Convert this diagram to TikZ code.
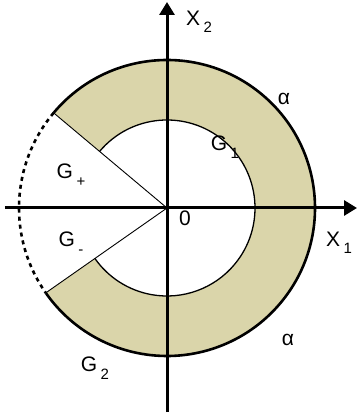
\documentclass[tikz,border=0pt]{standalone}
\usepackage{fontspec}
\setmainfont{Liberation Sans}
\usetikzlibrary{arrows.meta}
\definecolor{RingBeige}{HTML}{DAD5AA}

\newcommand{\lowsub}[1]{\,\raisebox{-0.35em}{\fontsize{15}{18}\selectfont #1}}

\begin{document}
\begin{tikzpicture}[
    x=1pt, y=1pt,
    axisline/.style={
      line width=3pt,
      -{Triangle[length=13pt,width=15pt]}
    },
    outerarc/.style={
      line width=2.6pt
    },
    outerdash/.style={
      line width=2.6pt,
      dash pattern=on 4pt off 4pt
    },
    innerarc/.style={
      line width=1.3pt
    },
    rayline/.style={
      line width=0.9pt
    },
    lbl/.style={
      font=\fontsize{21}{25}\selectfont,
      inner sep=0pt
    }
  ]
  \useasboundingbox (-167,-211) rectangle (194,208);

  \coordinate (O) at (0,0);
  \coordinate (xl) at (-162,0);
  \coordinate (xr) at (190,0);
  \coordinate (yb) at (0,-204);
  \coordinate (yt) at (0,206);
  \coordinate (up) at (140:148);
  \coordinate (lo) at (215:148);

  % shaded ring
  \fill[RingBeige] (up) arc[start angle=140, end angle=-145, radius=148]
    -- (-145:88) arc[start angle=-145, end angle=140, radius=88] -- cycle;

  \draw[outerarc] (up) arc[start angle=140, end angle=-145, radius=148];
  \draw[outerdash] (up) arc[start angle=140, end angle=215, radius=148];
  \draw[innerarc] (140:88) arc[start angle=140, end angle=-145, radius=88];
  \draw[rayline] (O) -- (up);
  \draw[rayline] (O) -- (lo);

  % axes
  \draw[axisline] (xl) -- (xr);
  \draw[axisline] (yb) -- (yt);

  \node[lbl] (x2) at (32,186) {X\lowsub{2}};
  \node[lbl] (x1) at (172,-35) {X\lowsub{1}};
  \node[lbl] (orig) at (18,-10) {0};
  \node[lbl] (g1) at (58,61) {G\lowsub{1}};
  \node[lbl] (g2) at (-72,-160) {G\lowsub{2}};
  \node[lbl] (gp) at (-96,33) {G\lowsub{+}};
  \node[lbl] (gm) at (-96,-35) {G\lowsub{-}};
  \node[lbl] (a1) at (117,109) {α};
  \node[lbl] (a2) at (121,-132) {α};
\end{tikzpicture}
\end{document}
